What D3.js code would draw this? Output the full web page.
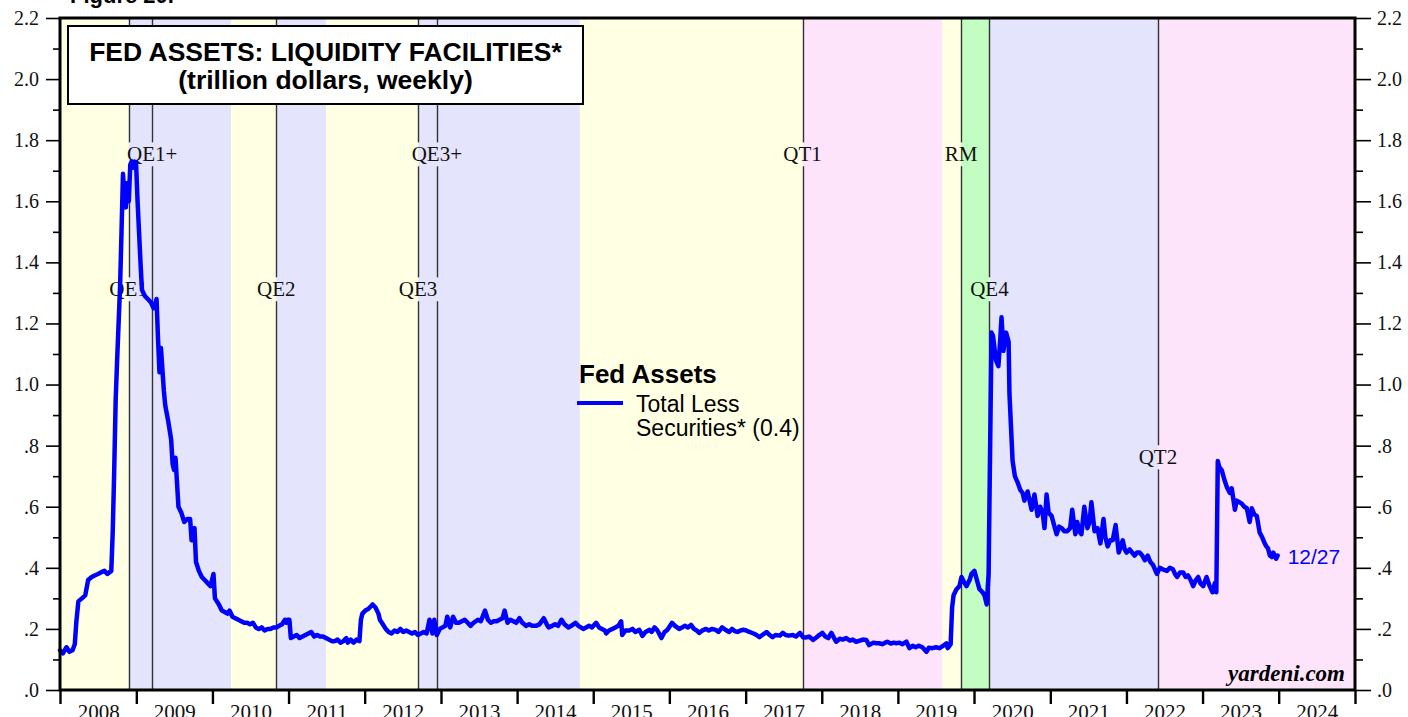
<!DOCTYPE html>
<html>
<head>
<meta charset="utf-8">
<script src="https://cdn.jsdelivr.net/npm/d3@7"></script>
<style>
  body { margin: 0; background: #fff; }
  svg { display: block; }
</style>
</head>
<body>
<svg id="chart"></svg>
<script>
// Fed assets: total less securities (trillion $)
const fed2008 = [["01-01",0.13],["01-15",0.12],["02-01",0.14],["02-15",0.125],["03-01",0.13],["03-12",0.15],["03-19",0.22],["03-29",0.29],["04-15",0.30],["05-01",0.31],["05-15",0.36],["06-01",0.37],["06-15",0.375],["07-01",0.38],["07-15",0.385],["08-01",0.39],["08-15",0.38],["09-03",0.39],["09-10",0.52],["09-17",0.72],["09-24",0.95],["10-01",1.08],["10-08",1.20],["10-15",1.32],["10-22",1.50],["10-29",1.69],["11-05",1.62],["11-12",1.58],["11-19",1.66],["11-26",1.60],["12-03",1.72],["12-10",1.73],["12-17",1.71],["12-24",1.73],["12-31",1.72]];
const fed2009 = [["01-07",1.60],["01-14",1.50],["01-21",1.40],["01-28",1.31],["02-11",1.29],["02-25",1.28],["03-11",1.27],["03-25",1.25],["04-01",1.26],["04-08",1.28],["04-15",1.15],["04-22",1.04],["04-29",1.12],["05-06",1.05],["05-13",0.98],["05-20",0.93],["06-03",0.88],["06-17",0.82],["06-24",0.74],["07-01",0.72],["07-08",0.76],["07-15",0.68],["07-22",0.60],["08-05",0.58],["08-19",0.55],["09-02",0.56],["09-16",0.56],["09-23",0.49],["10-07",0.53],["10-14",0.42],["10-28",0.39],["11-11",0.37],["11-25",0.36],["12-09",0.35],["12-23",0.34]];
const fed2010 = [["01-06",0.38],["01-13",0.30],["02-01",0.28],["02-15",0.26],["03-01",0.255],["03-15",0.25],["03-24",0.26],["04-07",0.24],["04-21",0.235],["05-05",0.23],["05-19",0.225],["06-02",0.22],["06-16",0.22],["06-30",0.215],["07-14",0.22],["07-28",0.205],["08-11",0.20],["08-25",0.205],["09-08",0.195],["09-22",0.20],["10-06",0.20],["10-20",0.205],["11-03",0.205],["11-17",0.21],["12-01",0.215],["12-15",0.23],["12-22",0.22],["12-29",0.23]];
const fed2011 = [["01-05",0.23],["01-12",0.17],["01-26",0.175],["02-09",0.18],["02-23",0.17],["03-09",0.175],["03-23",0.18],["04-06",0.185],["04-20",0.19],["05-04",0.175],["05-18",0.18],["06-01",0.175],["06-15",0.175],["06-29",0.17],["07-13",0.165],["07-27",0.16],["08-10",0.16],["08-24",0.165],["09-07",0.155],["09-21",0.16],["10-05",0.17],["10-12",0.155],["10-26",0.165],["11-09",0.155],["11-23",0.165],["12-07",0.16],["12-14",0.23],["12-21",0.25],["12-28",0.255]];
const fed2012 = [["01-04",0.26],["01-18",0.265],["02-01",0.275],["02-08",0.28],["02-22",0.27],["03-07",0.25],["03-14",0.23],["03-28",0.215],["04-11",0.20],["04-25",0.19],["05-09",0.185],["05-23",0.195],["06-06",0.19],["06-20",0.20],["07-04",0.19],["07-18",0.195],["08-01",0.19],["08-15",0.185],["08-29",0.19],["09-12",0.18],["09-26",0.185],["10-10",0.19],["10-24",0.185],["11-07",0.23],["11-21",0.185],["11-30",0.23],["12-12",0.18],["12-26",0.20]];
const fed2013 = [["01-08",0.205],["01-22",0.21],["01-31",0.24],["02-14",0.205],["02-28",0.24],["03-14",0.22],["03-28",0.22],["04-11",0.225],["04-25",0.23],["05-09",0.22],["05-23",0.21],["06-06",0.22],["06-27",0.23],["07-11",0.225],["07-31",0.26],["08-14",0.23],["08-28",0.22],["09-11",0.225],["09-25",0.225],["10-09",0.23],["10-23",0.235],["11-02",0.26],["11-16",0.22],["11-30",0.23],["12-14",0.225],["12-28",0.22]];
const fed2014 = [["01-12",0.235],["01-26",0.22],["02-14",0.21],["02-28",0.215],["03-14",0.21],["04-01",0.21],["04-18",0.215],["05-09",0.235],["05-23",0.215],["06-01",0.205],["06-18",0.21],["07-02",0.215],["07-16",0.21],["08-02",0.23],["08-16",0.215],["09-04",0.205],["09-18",0.21],["10-08",0.22],["10-22",0.21],["11-14",0.20],["11-28",0.205],["12-12",0.21],["12-26",0.205]];
const fed2015 = [["01-15",0.22],["01-29",0.205],["02-12",0.20],["02-26",0.195],["03-04",0.185],["03-18",0.195],["04-03",0.20],["04-17",0.205],["05-01",0.21],["05-15",0.225],["05-20",0.18],["06-05",0.195],["06-23",0.195],["07-08",0.20],["07-22",0.19],["08-10",0.197],["08-25",0.177],["09-09",0.19],["09-28",0.197],["10-08",0.19],["10-22",0.205],["11-05",0.195],["11-24",0.17],["12-09",0.19],["12-23",0.197]];
const fed2016 = [["01-14",0.22],["01-28",0.21],["02-17",0.20],["03-02",0.205],["03-16",0.21],["03-30",0.205],["04-14",0.213],["04-28",0.20],["05-11",0.195],["05-23",0.187],["06-08",0.195],["06-25",0.20],["07-08",0.195],["07-24",0.20],["08-10",0.197],["08-24",0.19],["09-10",0.205],["09-24",0.198],["10-14",0.19],["10-28",0.20],["11-09",0.193],["11-23",0.19],["12-07",0.195],["12-21",0.197]];
const fed2017 = [["01-04",0.195],["01-19",0.19],["02-08",0.185],["02-22",0.18],["03-08",0.173],["03-22",0.18],["04-11",0.19],["04-26",0.18],["05-10",0.173],["05-24",0.18],["06-14",0.178],["06-28",0.187],["07-12",0.18],["07-26",0.178],["08-15",0.18],["08-30",0.175],["09-18",0.187],["10-03",0.173],["10-18",0.172],["11-01",0.175],["11-20",0.164],["12-06",0.172],["12-20",0.18]];
const fed2018 = [["01-04",0.187],["01-18",0.175],["02-01",0.17],["02-16",0.187],["03-01",0.17],["03-11",0.158],["03-28",0.168],["04-11",0.165],["04-28",0.17],["05-16",0.162],["05-30",0.165],["06-15",0.158],["07-03",0.162],["07-18",0.165],["08-02",0.164],["08-16",0.147],["09-05",0.155],["09-19",0.153],["10-04",0.153],["10-18",0.15],["11-01",0.155],["11-11",0.158],["11-28",0.152],["12-12",0.155],["12-25",0.153]];
const fed2019 = [["01-09",0.155],["01-23",0.15],["02-11",0.158],["02-25",0.137],["03-13",0.145],["03-27",0.14],["04-10",0.145],["04-28",0.14],["05-18",0.125],["05-29",0.138],["06-16",0.137],["07-03",0.14],["07-20",0.137],["08-07",0.145],["08-22",0.153],["08-28",0.137],["09-11",0.15],["09-18",0.27],["09-25",0.31],["10-09",0.33],["10-23",0.34],["11-02",0.37],["11-13",0.355],["11-26",0.34],["12-11",0.36],["12-20",0.38]];
const fed2020 = [["01-03",0.39],["01-15",0.36],["01-27",0.33],["02-11",0.32],["02-20",0.31],["03-02",0.28],["03-11",0.38],["03-25",1.17],["04-01",1.16],["04-15",1.08],["04-27",1.06],["05-06",1.15],["05-12",1.22],["05-21",1.11],["06-03",1.17],["06-15",1.14],["06-19",0.97],["07-04",0.75],["07-15",0.70],["07-28",0.68],["08-10",0.655],["08-21",0.645],["08-30",0.62],["09-14",0.65],["10-03",0.59],["10-17",0.64],["11-01",0.57],["11-13",0.60],["11-25",0.58],["12-04",0.53],["12-14",0.64],["12-24",0.58]];
const fed2021 = [["01-07",0.57],["01-19",0.54],["01-31",0.51],["02-12",0.535],["02-24",0.53],["03-09",0.52],["03-23",0.52],["04-06",0.53],["04-16",0.59],["05-01",0.51],["05-10",0.55],["05-20",0.52],["05-30",0.51],["06-13",0.60],["06-28",0.53],["07-08",0.55],["07-17",0.615],["08-01",0.52],["08-15",0.53],["08-29",0.48],["09-13",0.56],["09-22",0.50],["10-03",0.47],["10-15",0.49],["10-27",0.49],["11-10",0.54],["11-25",0.45],["12-05",0.47],["12-14",0.49],["12-24",0.46]];
const fed2022 = [["01-02",0.45],["01-16",0.46],["01-28",0.45],["02-09",0.44],["02-21",0.45],["03-05",0.45],["03-18",0.44],["03-30",0.425],["04-13",0.44],["04-25",0.42],["05-08",0.41],["05-27",0.38],["06-10",0.40],["06-24",0.395],["07-14",0.39],["07-28",0.40],["08-12",0.395],["08-22",0.38],["09-01",0.37],["09-15",0.385],["09-30",0.385],["10-12",0.37],["10-23",0.375],["11-05",0.36],["11-17",0.34],["11-30",0.36],["12-11",0.37],["12-21",0.35]];
const fed2023 = [["01-04",0.34],["01-20",0.37],["02-04",0.34],["02-18",0.32],["03-01",0.35],["03-08",0.32],["03-15",0.75],["03-22",0.73],["04-03",0.72],["04-15",0.69],["04-27",0.665],["05-12",0.645],["05-21",0.66],["06-05",0.59],["06-14",0.62],["06-26",0.615],["07-08",0.61],["07-20",0.60],["08-01",0.595],["08-09",0.57],["08-15",0.55],["08-25",0.595],["09-06",0.575],["09-18",0.57],["10-02",0.515],["10-14",0.50],["10-26",0.48],["11-03",0.47],["11-10",0.465],["11-20",0.44],["11-29",0.435],["12-06",0.45],["12-13",0.44],["12-20",0.43],["12-27",0.44]];

const seriesYears = [[2008, fed2008], [2009, fed2009], [2010, fed2010], [2011, fed2011], [2012, fed2012], [2013, fed2013], [2014, fed2014], [2015, fed2015], [2016, fed2016], [2017, fed2017], [2018, fed2018], [2019, fed2019], [2020, fed2020], [2021, fed2021], [2022, fed2022], [2023, fed2023]];

// policy regimes (background shading)
const phaseStarts = ["2008-01-01", "2008-11-25", "2010-03-31", "2010-11-03", "2011-06-30", "2012-09-13", "2014-10-29", "2017-10-01", "2019-08-01", "2019-10-31", "2020-03-15", "2022-06-01"];
const phaseKinds = ["none", "qe", "none", "qe", "none", "qe", "none", "qt", "none", "rm", "qe", "qt"];

// event markers
const eventNames = ["QE1", "QE1+", "QE2", "QE3", "QE3+", "QT1", "RM", "QE4", "QT2"];
const eventDates = ["2008-11-25", "2009-03-18", "2010-11-03", "2012-09-13", "2012-12-12", "2017-10-01", "2019-10-31", "2020-03-15", "2022-06-01"];
const eventRows = [1, 0, 1, 1, 0, 0, 0, 1, 2];

const yearLabels = ["2008", "2009", "2010", "2011", "2012", "2013", "2014", "2015", "2016", "2017", "2018", "2019", "2020", "2021", "2022", "2023", "2024"];
const yMajor = [0, 0.2, 0.4, 0.6, 0.8, 1.0, 1.2, 1.4, 1.6, 1.8, 2.0, 2.2];
const yTickLabels = [".0", ".2", ".4", ".6", ".8", "1.0", "1.2", "1.4", "1.6", "1.8", "2.0", "2.2"];
const yMinor = [0.1, 0.3, 0.5, 0.7, 0.9, 1.1, 1.3, 1.5, 1.7, 1.9, 2.1];

// layout / styles
const W = 1408, H = 717;
const plot = { left: 60, right: 1355, top: 18, bottom: 690 };
const labelRowY = [154, 289, 457];
const phaseColor = { none: "#ffffe4", qe: "#e4e4fc", qt: "#fde4fb", rm: "#c2fdc2" };
const SERIF = "'Liberation Serif', 'Times New Roman', serif";
const SANS = "'Liberation Sans', Arial, sans-serif";

const parse = d3.utcParse("%Y-%m-%d");
const series = seriesYears.flatMap(([yr, rows]) =>
  rows.map(([md, v]) => ({ date: parse(yr + "-" + md), value: v })));

const svg = d3.select("#chart").attr("width", W).attr("height", H);

const x = d3.scaleUtc()
  .domain([parse("2008-01-01"), parse("2025-01-01")])
  .range([plot.left, plot.right]);
const y = d3.scaleLinear().domain([0, 2.2]).range([plot.bottom, plot.top]);

// shading bands
const bands = phaseStarts.map((s, i) => ({
  start: parse(s),
  end: parse(phaseStarts[i + 1] || "2025-01-01"),
  kind: phaseKinds[i]
}));
svg.append("g").selectAll("rect").data(bands).join("rect")
  .attr("x", d => x(d.start))
  .attr("width", d => x(d.end) - x(d.start))
  .attr("y", plot.top)
  .attr("height", plot.bottom - plot.top)
  .attr("fill", d => phaseColor[d.kind]);

const lineG = svg.append("g");

// event labels
const events = eventNames.map((n, i) => ({ name: n, date: parse(eventDates[i]), row: eventRows[i] }));
const labels = svg.append("g")
  .attr("font-family", SERIF)
  .attr("font-size", 21)
  .selectAll("text").data(events).join("text")
  .attr("x", d => x(d.date))
  .attr("y", d => labelRowY[d.row])
  .attr("dy", "0.35em")
  .attr("text-anchor", "middle")
  .attr("fill", "#111")
  .text(d => d.name);
const boxes = labels.nodes().map(n => n.getBBox());

// vertical event lines, broken where a label sits on them
events.forEach(e => {
  const lx = Math.round(x(e.date)) + 0.5;
  const gaps = boxes
    .filter(b => lx >= b.x - 1 && lx <= b.x + b.width + 1)
    .map(b => [b.y, b.y + b.height])
    .sort((a, b) => a[0] - b[0]);
  let y0 = plot.top;
  const segs = [];
  gaps.forEach(([g0, g1]) => {
    if (g0 > y0) segs.push([y0, g0]);
    y0 = Math.max(y0, g1);
  });
  segs.push([y0, plot.bottom]);
  lineG.selectAll(null).data(segs).join("line")
    .attr("x1", lx).attr("x2", lx)
    .attr("y1", d => d[0]).attr("y2", d => d[1])
    .attr("stroke", "#333")
    .attr("stroke-width", 1.4);
});

// data line
const line = d3.line().x(d => x(d.date)).y(d => y(d.value));
svg.append("path")
  .datum(series)
  .attr("d", line)
  .attr("fill", "none")
  .attr("stroke", "#0000ff")
  .attr("stroke-width", 4.5)
  .attr("stroke-linejoin", "round")
  .attr("stroke-linecap", "round");

// frame
svg.append("rect")
  .attr("x", plot.left).attr("y", plot.top)
  .attr("width", plot.right - plot.left)
  .attr("height", plot.bottom - plot.top)
  .attr("fill", "none")
  .attr("stroke", "#000")
  .attr("stroke-width", 3);

// axes
function styleAxis(g, size) {
  g.select(".domain").remove();
  g.selectAll("line").attr("stroke", "#000").attr("stroke-width", 1.6);
  g.selectAll("text").attr("font-family", SERIF).attr("font-size", size).attr("fill", "#111");
}
const yFmt = d => yTickLabels[yMajor.indexOf(d)];

svg.append("g").attr("transform", `translate(${plot.left},0)`)
  .call(d3.axisLeft(y).tickValues(yMajor).tickFormat(yFmt).tickSize(14).tickPadding(7))
  .call(g => styleAxis(g, 20));
svg.append("g").attr("transform", `translate(${plot.left},0)`)
  .call(d3.axisLeft(y).tickValues(yMinor).tickFormat("").tickSize(7))
  .call(g => styleAxis(g, 20));
svg.append("g").attr("transform", `translate(${plot.right},0)`)
  .call(d3.axisRight(y).tickValues(yMajor).tickFormat(yFmt).tickSize(16).tickPadding(6))
  .call(g => styleAxis(g, 20));
svg.append("g").attr("transform", `translate(${plot.right},0)`)
  .call(d3.axisRight(y).tickValues(yMinor).tickFormat("").tickSize(8))
  .call(g => styleAxis(g, 20));

const yearStarts = yearLabels.map(l => parse(l + "-01-01")).concat([parse("2025-01-01")]);
const yearMids = yearLabels.map(l => parse(l + "-07-02"));
svg.append("g").attr("transform", `translate(0,${plot.bottom})`)
  .call(d3.axisBottom(x).tickValues(yearStarts).tickFormat("").tickSize(14))
  .call(g => { styleAxis(g, 21); g.selectAll("line").attr("stroke-width", 2.4); });
svg.append("g").attr("transform", `translate(0,${plot.bottom})`)
  .call(d3.axisBottom(x).tickValues(yearMids).tickFormat((d, i) => yearLabels[i]).tickSize(0).tickPadding(14))
  .call(g => styleAxis(g, 21));

// figure heading (clipped at top)
svg.append("text")
  .attr("x", 70).attr("y", 3)
  .attr("font-family", SANS).attr("font-weight", "bold").attr("font-size", 22)
  .text("Figure 20.");

// title box
svg.append("rect")
  .attr("x", 68).attr("y", 26).attr("width", 515).attr("height", 78)
  .attr("fill", "#fff").attr("stroke", "#000").attr("stroke-width", 2);
const title = svg.append("g")
  .attr("font-family", SANS).attr("font-weight", "bold").attr("font-size", 26.5)
  .attr("text-anchor", "middle");
title.append("text").attr("x", 325.5).attr("y", 61).text("FED ASSETS: LIQUIDITY FACILITIES*");
title.append("text").attr("x", 325.5).attr("y", 89).text("(trillion dollars, weekly)");

// legend
const legend = svg.append("g").attr("font-family", SANS).attr("fill", "#000");
legend.append("text").attr("x", 579).attr("y", 383)
  .attr("font-weight", "bold").attr("font-size", 26).text("Fed Assets");
legend.append("line")
  .attr("x1", 577).attr("x2", 623).attr("y1", 403).attr("y2", 403)
  .attr("stroke", "#0000ff").attr("stroke-width", 4);
legend.append("text").attr("x", 636).attr("y", 412).attr("font-size", 23).text("Total Less");
legend.append("text").attr("x", 636).attr("y", 436).attr("font-size", 23).text("Securities* (0.4)");

// last-value tag
const last = series[series.length - 1];
svg.append("text")
  .attr("x", x(last.date) + 10)
  .attr("y", y(last.value) + 8)
  .attr("font-family", SANS).attr("font-size", 21)
  .attr("fill", "#0000ff")
  .text("12/27");

// source
svg.append("text")
  .attr("x", 1345).attr("y", 681)
  .attr("text-anchor", "end")
  .attr("font-family", SERIF).attr("font-weight", "bold").attr("font-style", "italic")
  .attr("font-size", 23)
  .text("yardeni.com");
</script>
</body>
</html>
